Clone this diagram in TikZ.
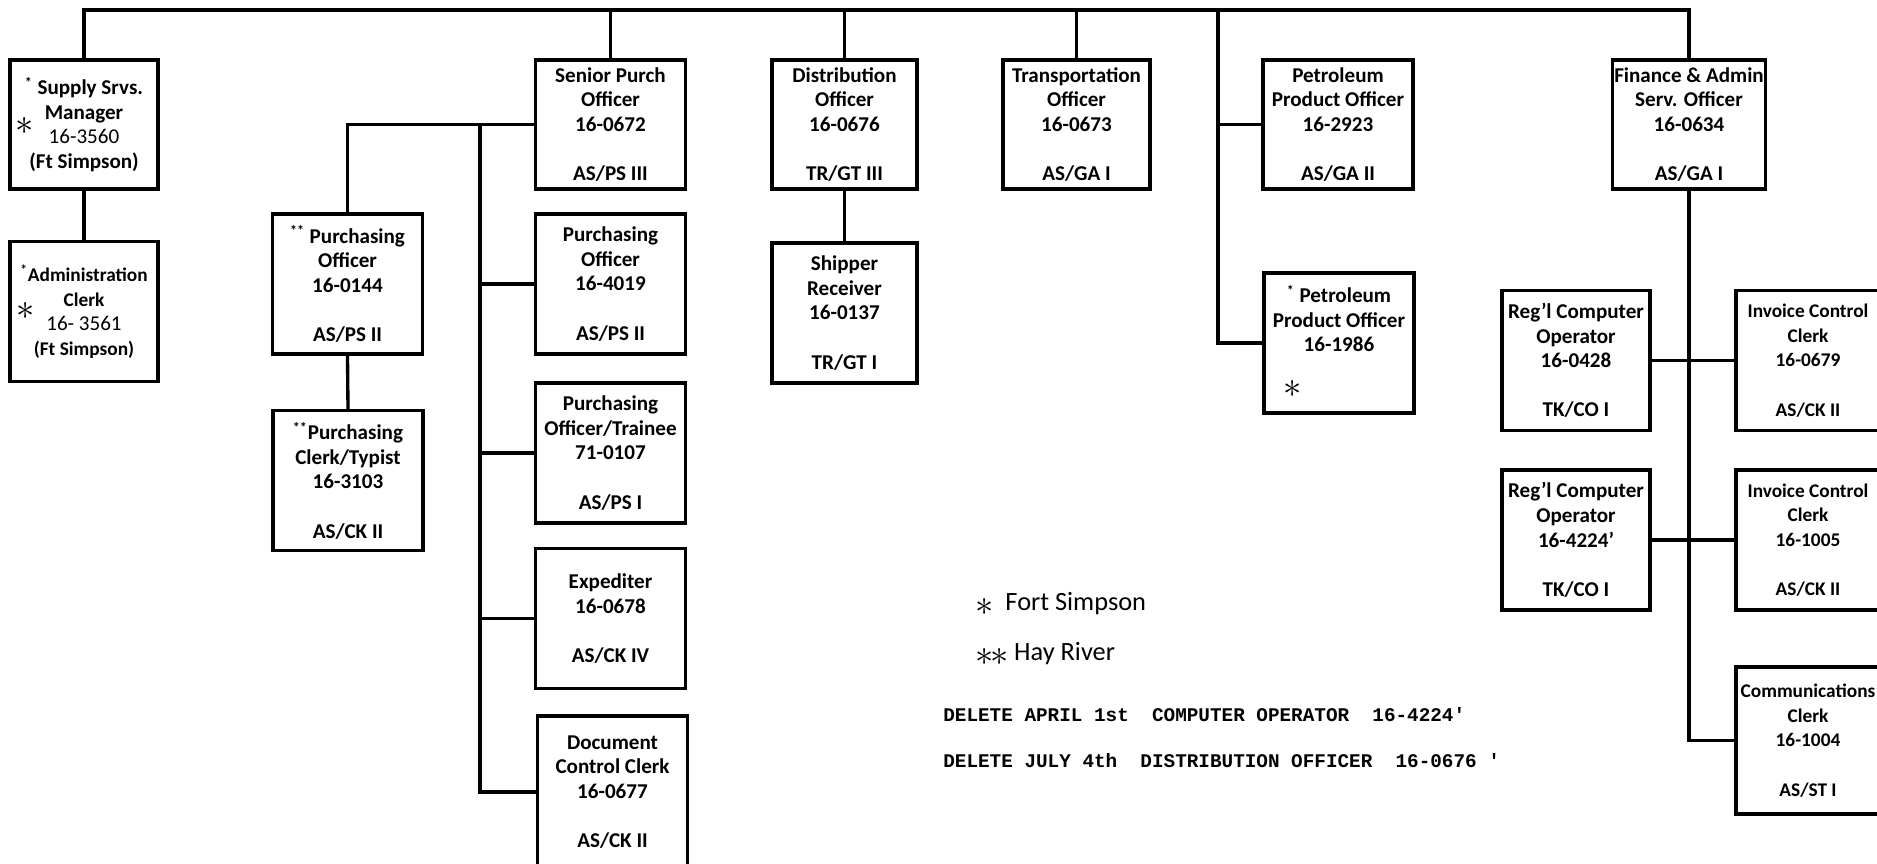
\documentclass[tikz,border=0pt]{standalone}
\usepackage{fontspec}
\setmainfont{Carlito}
\newfontfamily\typewr{Liberation Mono}
\usetikzlibrary{calc}

\newcommand{\astr}{\raisebox{-0.35ex}{\fontsize{20}{20}\selectfont$\ast$}}

\tikzset{
  post/.style={draw, line width=1.9pt, align=center, inner sep=1pt,
    minimum width=3cm, minimum height=2.8cm,
    font=\bfseries\fontsize{12}{14}\selectfont},
  toppost/.style={post, minimum height=2.58cm},
  edgepost/.style={post, minimum width=2.88cm, font=\bfseries\fontsize{11}{14}\selectfont},
  link/.style={line width=1.9pt},
  note/.style={anchor=west, inner sep=0pt},
}

\begin{document}
\begin{tikzpicture}[x=0.02cm, y=-0.02cm]
  \useasboundingbox (0,0) rectangle (1877,864);
  \clip (0,0) rectangle (1877,864);

  % top row
  \node[toppost, minimum width=2.96cm] (sup) at (84,124.5) {\textsuperscript{*} Supply Srvs.\\Manager\\{\mdseries\large 16-3560}\\(Ft Simpson)};
  \node[toppost] (spo) at (610.5,124.5) {Senior Purch\\Officer\\16-0672\\[14pt]AS/PS III};
  \node[toppost, minimum width=2.9cm] (dis) at (844.5,124.5) {Distribution\\Officer\\16-0676\\[14pt]TR/GT III};
  \node[toppost, minimum width=2.94cm] (tro) at (1076.5,124.5) {Transportation\\Officer\\16-0673\\[14pt]AS/GA I};
  \node[toppost] (pp1) at (1338,124.5) {Petroleum\\Product Officer\\16-2923\\[14pt]AS/GA II};
  \node[toppost, minimum width=2.92cm] (fin) at (1689,124.5) {Finance \& Admin\\Serv. Officer\\16-0634\\[14pt]AS/GA I};

  % supply and purchasing
  \node[post, minimum width=2.96cm, font=\bfseries\fontsize{11}{14}\selectfont] (adm) at (84,311.5) {\textsuperscript{*}Administration\\Clerk\\{\mdseries\large 16- 3561}\\(Ft Simpson)};
  \node[post] (po1) at (347.5,284) {\textsuperscript{**} Purchasing\\Officer\\16-0144\\[14pt]AS/PS II};
  \node[post] (pct) at (348,480.5) {\textsuperscript{**}Purchasing\\Clerk/Typist\\16-3103\\[14pt]AS/CK II};
  \node[post] (po2) at (610.5,284) {Purchasing\\Officer\\16-4019\\[14pt]AS/PS II};
  \node[post] (pot) at (610.5,453) {Purchasing\\Officer/Trainee\\71-0107\\[14pt]AS/PS I};
  \node[post] (exp) at (610.5,618.5) {Expediter\\16-0678\\[14pt]AS/CK IV};
  \node[post, minimum height=3.04cm] (dcc) at (612.5,792) {Document\\Control Clerk\\16-0677\\[14pt]AS/CK II};

  % distribution and petroleum
  \node[post, minimum width=2.9cm] (shr) at (844.5,313) {Shipper\\Receiver\\16-0137\\[14pt]TR/GT I};
  \node[post] (pp2) at (1339,343) {\textsuperscript{*} Petroleum\\Product Officer\\16-1986\\[14pt]\phantom{X}};

  % finance
  \node[post, minimum width=2.96cm] (rc1) at (1576,360.5) {Reg'l Computer\\Operator\\16-0428\\[14pt]TK/CO I};
  \node[edgepost] (ic1) at (1808,360.5) {Invoice Control\\Clerk\\16-0679\\[14pt]AS/CK II};
  \node[post, minimum width=2.96cm] (rc2) at (1576,540) {Reg'l Computer\\Operator\\16-4224'\\[14pt]TK/CO I};
  \node[edgepost] (ic2) at (1808,540) {Invoice Control\\Clerk\\16-1005\\[14pt]AS/CK II};
  \node[edgepost, minimum height=2.94cm] (com) at (1808,740.5) {Communications\\Clerk\\16-1004\\[14pt]AS/ST I};

  % Ft Simpson marks
  \node (supast) at (25,126) {\astr};
  \node (admast) at (26,311) {\astr};
  \node (pp2ast) at (1293,389) {\astr};

  % connectors
  \coordinate (topline) at (0,10);
  \coordinate (petro) at (1218,10);
  \coordinate (purch) at (480,0);
  \draw[link] (sup.north) |- (topline -| fin.north) -- (fin.north);
  \foreach \n in {spo,dis,tro} \draw[link] (\n.north) -- (\n.north |- topline);
  \draw[link] (sup.south) -- (adm.north);
  \draw[link] (spo.west) -| (po1.north);
  \draw[link] (po1.south) -- (pct.north);
  \draw[link] (spo.west -| purch) |- (dcc.west);
  \foreach \n in {po2,pot,exp} \draw[link] (\n.west) -- (\n.west -| purch);
  \draw[link] (dis.south) -- (shr.north);
  \draw[link] (petro) |- (pp2.west);
  \draw[link] (pp1.west) -- (pp1.west -| petro);
  \draw[link] (fin.south) |- (com.west);
  \draw[link] (rc1.east) -- (ic1.west);
  \draw[link] (rc2.east) -- (ic2.west);

  % legend
  \node[note, font=\fontsize{15}{18}\selectfont] (ftsimp) at (975,604) {\astr\ \ Fort Simpson};
  \node[note, font=\fontsize{15}{18}\selectfont] (hayriv) at (975,654) {\astr\kern-2pt\astr\ Hay River};
  \node[note, font=\typewr\bfseries\fontsize{11}{13}\selectfont] (delapr) at (943,715) {DELETE APRIL 1st\ \ COMPUTER OPERATOR\ \ 16-4224'};
  \node[note, font=\typewr\bfseries\fontsize{11}{13}\selectfont] (deljul) at (943,761) {DELETE JULY 4th\ \ DISTRIBUTION OFFICER\ \ 16-0676 '};
\end{tikzpicture}
\end{document}
